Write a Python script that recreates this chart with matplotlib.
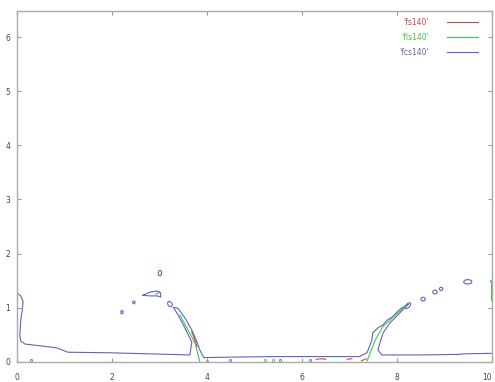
import numpy as np
import matplotlib.pyplot as plt
from matplotlib.patches import Ellipse

# contour traces (x, y)
blue_x = [0.00, 0.08, 0.13, 0.11, 0.08, 0.06, 0.08, 0.17, 0.48, 0.84, 1.07, 1.96, 2.80, 3.64,
          3.68, 3.58, 3.47, 3.37, 3.29, 3.39, 3.54, 3.68, 3.79, 3.85, 3.93,
          4.50, 5.50, 6.50, 7.20, 7.37, 7.47, 7.49, 7.60, 7.70, 7.79, 7.90, 8.00, 8.10, 8.21,
          8.24, 8.02, 7.85, 7.71, 7.64, 7.60, 7.68, 8.50, 9.30, 9.40, 10.00]
blue_y = [1.27, 1.22, 1.11, 0.96, 0.77, 0.50, 0.39, 0.33, 0.30, 0.26, 0.18, 0.17, 0.15, 0.13,
          0.37, 0.55, 0.74, 0.90, 1.01, 0.99, 0.81, 0.59, 0.37, 0.22, 0.08,
          0.09, 0.10, 0.10, 0.10, 0.17, 0.40, 0.54, 0.63, 0.68, 0.77, 0.83, 0.92, 1.00, 1.05,
          1.07, 0.87, 0.72, 0.54, 0.35, 0.22, 0.13, 0.13, 0.14, 0.15, 0.16]

tongue_x = [2.65, 2.80, 2.95, 3.02, 3.03, 2.95, 2.80, 2.65]
tongue_y = [1.23, 1.29, 1.31, 1.28, 1.20, 1.22, 1.22, 1.23]

green_left_x = [3.43, 3.60, 3.75, 3.85]
green_left_y = [0.87, 0.59, 0.35, 0.00]
green_right_x = [7.37, 7.54, 7.70, 7.92, 8.13, 8.20]
green_right_y = [0.02, 0.40, 0.65, 0.83, 1.00, 1.05]
green_tip_x = [2.92, 3.00]
green_tip_y = [1.25, 1.29]
green_edge_x = [9.97, 9.97]
green_edge_y = [1.15, 1.45]

red_segs = [([3.68, 3.74, 3.79], [0.56, 0.42, 0.28]),
            ([6.30, 6.40, 6.50], [0.05, 0.06, 0.05]),
            ([6.95, 7.05], [0.05, 0.06]),
            ([7.25, 7.35], [0.02, 0.06])]

# small closed islands: centre x, centre y, width, height, angle
isl_x = [3.01, 3.22, 2.46, 2.21, 8.23, 8.55, 8.80, 8.93, 9.49]
isl_y = [1.64, 1.07, 1.10, 0.92, 1.04, 1.16, 1.29, 1.35, 1.48]
isl_w = [0.07, 0.11, 0.05, 0.05, 0.14, 0.09, 0.09, 0.07, 0.17]
isl_h = [0.10, 0.08, 0.05, 0.06, 0.07, 0.07, 0.07, 0.06, 0.08]
isl_a = [0, -40, 0, 0, 40, 0, 0, 0, 0]

dots_blue_x = [0.30, 4.48, 5.54, 6.17, 9.97]
dots_blue_y = [0.04, 0.04, 0.03, 0.03, 1.50]
dots_green_x = [5.22, 5.39, 4.00]
dots_green_y = [0.03, 0.03, 0.02]

labels = ["'fs140'", "'fls140'", "'fcs140'"]
red, green, blue = '#cc4a4a', '#44c444', '#6262bc'

fig = plt.figure(figsize=(4.95, 3.82), dpi=100)
ax = fig.add_axes([0.0343, 0.0524, 0.9596, 0.9188])

lw = 0.8
ax.plot([], [], color=red, lw=lw, label=labels[0])
ax.plot(green_left_x, green_left_y, color=green, lw=lw, label=labels[1])
ax.plot(blue_x, blue_y, color=blue, lw=lw, label=labels[2])
ax.plot(green_right_x, green_right_y, color=green, lw=lw)
ax.plot(green_tip_x, green_tip_y, color=green, lw=lw)
ax.plot(green_edge_x, green_edge_y, color=green, lw=lw)
for sx, sy in red_segs:
    ax.plot(sx, sy, color=red, lw=lw)
ax.plot(tongue_x, tongue_y, color=blue, lw=lw)
for x, y, w, h, a in zip(isl_x, isl_y, isl_w, isl_h, isl_a):
    ax.add_patch(Ellipse((x, y), w, h, angle=a, fill=False, ec=blue, lw=lw))
ax.plot(dots_blue_x, dots_blue_y, 'o', ms=1.5, mfc='none', mec=blue, mew=0.6)
ax.plot(dots_green_x, dots_green_y, 'o', ms=1.5, mfc='none', mec=green, mew=0.6)

ax.set_xlim(0, 10)
ax.set_ylim(0, 6.48)
ax.set_xticks(np.arange(0, 11, 2))
ax.set_yticks(np.arange(0, 7, 1))
ax.tick_params(direction='in', length=3, width=0.8, color='#999999',
               labelsize=5.5, labelcolor='#444444', top=True, right=True)
ax.tick_params(axis='x', pad=8)
ax.tick_params(axis='y', pad=5)
for s in ax.spines.values():
    s.set_color('#aaaaaa')
    s.set_linewidth(1.0)
# keep the last x label inside the figure
ax.get_xticklabels()[-1].set_horizontalalignment('right')
ax.get_xticklabels()[-1].set_x(10.0)

ax.legend(loc='upper right', bbox_to_anchor=(0.977, 0.989), borderaxespad=0,
          frameon=False, markerfirst=False, fontsize=5.5,
          labelcolor='linecolor', handlelength=4.1, handletextpad=2.3,
          labelspacing=0.8)

fig.savefig('out.png', dpi=100)
